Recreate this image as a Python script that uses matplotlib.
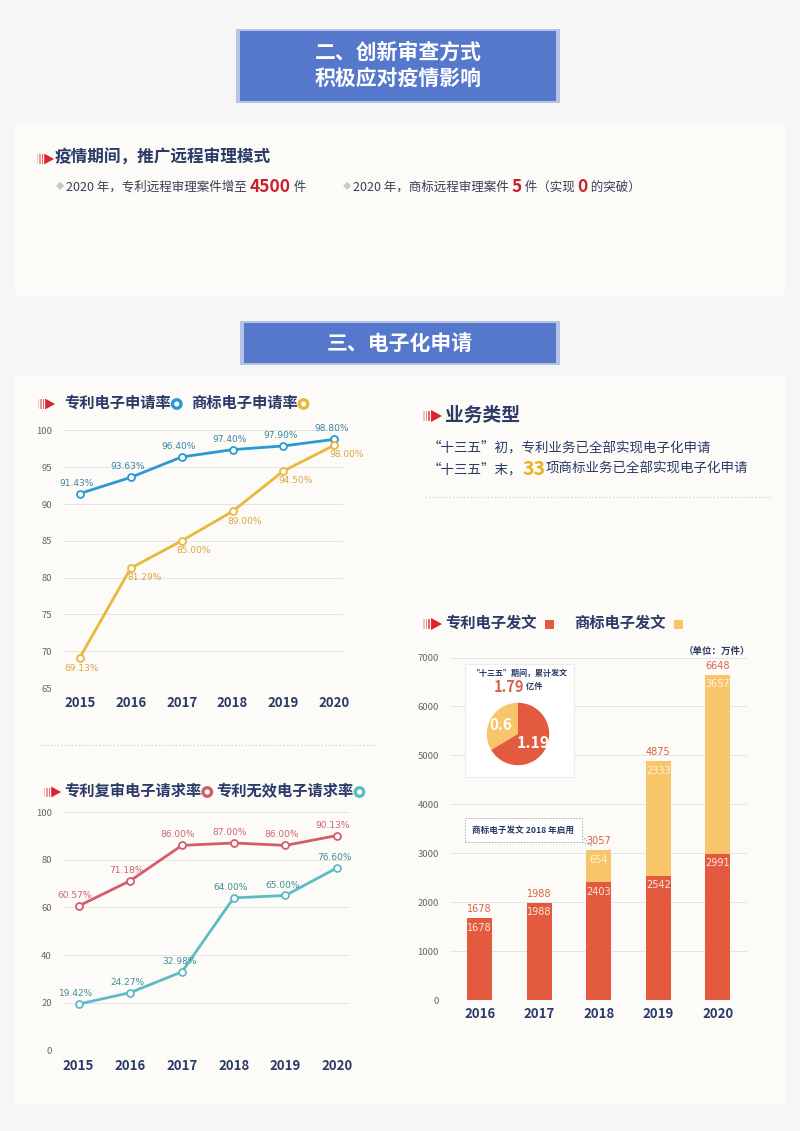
import matplotlib
matplotlib.use('Agg')
import matplotlib.pyplot as plt
from matplotlib.patches import FancyBboxPatch, Rectangle, Polygon, Ellipse

plt.rcParams['font.family'] = ['Noto Sans CJK SC', 'DejaVu Sans']

# data ---------------------------------------------------------------------
years_rate = ['2015', '2016', '2017', '2018', '2019', '2020']
patent_e_rate = [91.43, 93.63, 96.40, 97.40, 97.90, 98.80]
tm_e_rate = [69.13, 81.29, 85.00, 89.00, 94.50, 98.00]
reexam_rate = [60.57, 71.18, 86.00, 87.00, 86.00, 90.13]
invalid_rate = [19.42, 24.27, 32.98, 64.00, 65.00, 76.60]

years_doc = ['2016', '2017', '2018', '2019', '2020']
patent_doc = [1678, 1988, 2403, 2542, 2991]
tm_doc = [0, 0, 654, 2333, 3657]
pie_labels = ['0.6', '1.19']
pie_values = [0.6, 1.19]

NAVY = '#2b3a67'
W, H = 800, 1131

fig = plt.figure(figsize=(8, 11.31), dpi=100)
fig.patch.set_facecolor('#f6f6f6')
R = fig.canvas.get_renderer()


def fx(px):
    return px / W


def fy(py):
    return 1 - py / H


def ax_at(x0, y0, x1, y1):
    # axes from pixel box (top-left / bottom-right)
    return fig.add_axes([fx(x0), fy(y1), (x1 - x0) / W, (y1 - y0) / H])


def rich(x, y, parts, **kw):
    # draw text pieces one after another, x/y in pixels
    xx = fx(x)
    for s, props in parts:
        p = dict(kw)
        p.update(props)
        t = fig.text(xx, fy(y), s, va='center', **p)
        bb = t.get_window_extent(renderer=R)
        xx += bb.width / fig.bbox.width
    return xx * W


def arrow(x, y, s=1.0):
    for i, a in enumerate([0.25, 0.45, 0.7]):
        fig.patches.append(Rectangle((fx(x + i * 2.6 * s), fy(y + 5 * s)), 1.6 * s / W, 10 * s / H,
                                     transform=fig.transFigure, color='#d9262e', alpha=a, lw=0))
    tx = x + 8 * s
    fig.patches.append(Polygon([(fx(tx), fy(y - 6 * s)), (fx(tx + 11 * s), fy(y)), (fx(tx), fy(y + 6 * s))],
                               closed=True, transform=fig.transFigure, color='#d9262e', lw=0))


def ring(x, y, color):
    fig.patches.append(Ellipse((fx(x), fy(y)), 8.5 / W, 8.5 / H, transform=fig.transFigure,
                               facecolor='white', edgecolor=color, lw=2.4))


def title_box(x0, y0, x1, y1, text, size):
    fig.patches.append(FancyBboxPatch((fx(x0 - 4), fy(y1 + 2)), (x1 - x0 + 8) / W, (y1 - y0 + 4) / H,
                                      boxstyle='square,pad=0', transform=fig.transFigure,
                                      facecolor='#b4c3e6', edgecolor='none'))
    fig.patches.append(FancyBboxPatch((fx(x0), fy(y1)), (x1 - x0) / W, (y1 - y0) / H,
                                      boxstyle='square,pad=0', transform=fig.transFigure,
                                      facecolor='#5577cc', edgecolor='none'))
    fig.text(fx((x0 + x1) / 2), fy((y0 + y1) / 2), text, ha='center', va='center', color='white',
             fontsize=size, fontweight='bold', linespacing=1.35)


def panel(x0, y0, x1, y1):
    fig.patches.append(Rectangle((fx(x0), fy(y1)), (x1 - x0) / W, (y1 - y0) / H, zorder=-10,
                                 transform=fig.transFigure, facecolor='#fcfbf8', edgecolor='none'))


# background panels and headers ----------------------------------------------
panel(15, 125, 785, 295)
panel(15, 375, 785, 1105)
title_box(240, 31, 556, 101, '二、创新审查方式\n积极应对疫情影响', 15)
title_box(244, 323, 556, 363, '三、电子化申请', 15)

arrow(37, 159, 0.9)
fig.text(fx(55), fy(158), '疫情期间，推广远程审理模式', fontsize=12, fontweight='bold', color=NAVY, va='center')
rich(56, 187, [('◆ ', dict(color='#c8c8c8', fontsize=6)),
               ('2020 年，专利远程审理案件增至 ', {}),
               ('4500', dict(color='#c8202a', fontsize=12.5, fontweight='bold')),
               (' 件', {})], fontsize=9, color='#3a3f55')
rich(343, 187, [('◆ ', dict(color='#c8c8c8', fontsize=6)),
                ('2020 年，商标远程审理案件 ', {}),
                ('5', dict(color='#c8202a', fontsize=12.5, fontweight='bold')),
                (' 件（实现 ', {}),
                ('0', dict(color='#c8202a', fontsize=12.5, fontweight='bold')),
                (' 的突破）', {})], fontsize=9, color='#3a3f55')


def line_axes(ax, ylim, yticks):
    ax.set_facecolor('none')
    ax.set_xlim(-0.33, 5.17)
    ax.set_ylim(*ylim)
    ax.set_yticks(yticks)
    ax.set_xticks(range(6))
    ax.set_xticklabels(years_rate, fontsize=9.5, fontweight='bold', color=NAVY)
    ax.tick_params(axis='y', labelsize=6.8, labelcolor='#666666', length=0, pad=8)
    ax.tick_params(axis='x', length=0, pad=6)
    ax.grid(axis='y', color='#e4e4e4', lw=0.7)
    for s in ax.spines.values():
        s.set_visible(False)
    ax.set_axisbelow(True)


def draw_series(ax, vals, color, lab_color, off):
    ax.plot(range(6), vals, color=color, lw=2, marker='o', ms=5, mfc='white', mec=color, mew=1.3,
            zorder=3, clip_on=False)
    for i, v in enumerate(vals):
        dx, dy = off[i] if isinstance(off, list) else off
        ax.annotate('%.2f%%' % v, (i, v), xytext=(dx, dy), textcoords='offset points', ha='center',
                    va='center', fontsize=6.5, color=lab_color, family='DejaVu Sans')


# chart 1: electronic application rate ---------------------------------------
arrow(38, 404, 0.9)
x = rich(64, 403, [('专利电子申请率', {})], fontsize=11, fontweight='bold', color=NAVY)
ring(x + 6, 404, '#2b9ad3')
x = rich(x + 20, 403, [('商标电子申请率', {})], fontsize=11, fontweight='bold', color=NAVY)
ring(x + 6, 404, '#e8b83a')

ax1 = ax_at(63, 430.5, 343, 688)
line_axes(ax1, (65, 100), range(65, 101, 5))
draw_series(ax1, patent_e_rate, '#2b9ad3', '#3a84a6', (-2, 7.5))
draw_series(ax1, tm_e_rate, '#e8b83a', '#d9a640',
            [(1, -8), (10, -7), (9, -7), (9, -7), (9, -7), (9, -7)])

# dotted separators
fig.add_artist(plt.Line2D([fx(40), fx(375)], [fy(745), fy(745)], transform=fig.transFigure,
                          color='#d8d8d8', lw=1, ls=(0, (1, 1.5))))
fig.add_artist(plt.Line2D([fx(425), fx(770)], [fy(497), fy(497)], transform=fig.transFigure,
                          color='#d8d8d8', lw=1, ls=(0, (1, 1.5))))

# chart 2: review / invalidation request rate --------------------------------
arrow(44, 792, 0.9)
x = rich(64, 791, [('专利复审电子请求率', {})], fontsize=11, fontweight='bold', color=NAVY)
ring(x + 6, 792, '#d45d6b')
x = rich(x + 15, 791, [('专利无效电子请求率', {})], fontsize=11, fontweight='bold', color=NAVY)
ring(x + 6, 792, '#5bbcc4')

ax2 = ax_at(63, 812, 350, 1050.5)
line_axes(ax2, (0, 100), range(0, 101, 20))
ax2.set_xlim(-0.3, 5.25)
draw_series(ax2, reexam_rate, '#d45d6b', '#cf6474', (-3, 7.5))
draw_series(ax2, invalid_rate, '#5bbcc4', '#3f8f98', (-2, 7.5))

# business types --------------------------------------------------------------
arrow(423, 416, 1.0)
fig.text(fx(445), fy(415), '业务类型', fontsize=13.5, fontweight='bold', color=NAVY, va='center')
rich(428, 447, [('“十三五”初，专利业务已全部实现电子化申请', {})], fontsize=9.7, color=NAVY)
rich(428, 469, [('“十三五”末，', {}),
                ('33', dict(color='#e8b020', fontsize=14, fontweight='bold')),
                ('项商标业务已全部实现电子化申请', {})], fontsize=9.7, color=NAVY)

# chart 3: electronic dispatches ---------------------------------------------
arrow(423, 624, 1.0)
x = rich(445, 623, [('专利电子发文', {})], fontsize=11, fontweight='bold', color=NAVY)
fig.patches.append(Rectangle((fx(x + 8), fy(629)), 9 / W, 9 / H, transform=fig.transFigure,
                             color='#e35a3f', lw=0))
x = rich(x + 38, 623, [('商标电子发文', {})], fontsize=11, fontweight='bold', color=NAVY)
fig.patches.append(Rectangle((fx(x + 8), fy(629)), 9 / W, 9 / H, transform=fig.transFigure,
                             color='#f9c56a', lw=0))
fig.text(fx(750), fy(651), '（单位：万件）', fontsize=6.8, fontweight='bold', color=NAVY,
         ha='right', va='center')

ax3 = ax_at(450, 657.5, 747, 1000)
ax3.set_facecolor('none')
xs = list(range(len(years_doc)))
ax3.bar(xs, patent_doc, width=0.42, color='#e35a3f', zorder=2)
ax3.bar(xs, tm_doc, width=0.42, bottom=patent_doc, color='#f9c56a', zorder=2)
ax3.set_xlim(-0.5, 4.49)
ax3.set_ylim(0, 7000)
ax3.set_yticks(range(0, 7001, 1000))
ax3.set_xticks(xs)
ax3.set_xticklabels(years_doc, fontsize=9.5, fontweight='bold', color=NAVY)
ax3.tick_params(axis='y', labelsize=6.8, labelcolor='#666666', length=0, pad=8)
ax3.tick_params(axis='x', length=0, pad=5)
ax3.grid(axis='y', color='#e4e4e4', lw=0.7)
ax3.set_axisbelow(True)
for s in ax3.spines.values():
    s.set_visible(False)
for i in xs:
    total = patent_doc[i] + tm_doc[i]
    ax3.annotate(str(total), (i, total), xytext=(0, 6.5), textcoords='offset points', ha='center',
                 va='center', fontsize=7, color='#d9624a', family='DejaVu Sans')
    ax3.annotate(str(patent_doc[i]), (i, patent_doc[i]), xytext=(0, -7), textcoords='offset points',
                 ha='center', va='center', fontsize=7, color='#fde8e0', family='DejaVu Sans')
    if tm_doc[i] > 0:
        ax3.annotate(str(tm_doc[i]), (i, total), xytext=(0, -7), textcoords='offset points',
                     ha='center', va='center', fontsize=7, color='#fff4dc', family='DejaVu Sans')

# inset pie
fig.patches.append(Rectangle((fx(465), fy(777)), 109 / W, 113 / H, transform=fig.transFigure,
                             facecolor='white', edgecolor='#ececec', lw=0.8, zorder=5))
fig.text(fx(519), fy(673), '“十三五”期间，累计发文', fontsize=5.8, fontweight='bold', color=NAVY,
         ha='center', va='center', zorder=6)
rich(494, 687, [('1.79', dict(color='#d9624a', fontsize=10.5, fontweight='bold')),
                (' 亿件', dict(fontsize=6, color=NAVY, fontweight='bold'))], zorder=6)
axp = ax_at(479, 695, 557, 773)
axp.set_zorder(7)
axp.pie(pie_values, colors=['#f9c56a', '#e35a3f'], startangle=90, counterclock=True,
        wedgeprops=dict(lw=0))
axp.set_aspect('equal')
fig.text(fx(501), fy(725), pie_labels[0], fontsize=11, fontweight='bold', color='white',
         ha='center', va='center', zorder=8)
fig.text(fx(533), fy(743), pie_labels[1], fontsize=11.5, fontweight='bold', color='white',
         ha='center', va='center', zorder=8)

# note box
fig.patches.append(Rectangle((fx(465), fy(842)), 117 / W, 24 / H, transform=fig.transFigure,
                             facecolor='white', edgecolor='#aaaaaa', lw=0.7, ls=(0, (1.5, 1.5)), zorder=5))
fig.text(fx(523), fy(830), '商标电子发文 2018 年启用', fontsize=6.2, fontweight='bold', color=NAVY,
         ha='center', va='center', zorder=6)
fig.add_artist(plt.Line2D([fx(580), fx(592), fx(582)], [fy(834), fy(846), fy(842)],
                          transform=fig.transFigure, color='#aaaaaa', lw=0.7, ls=(0, (1.5, 1.5))))

fig.savefig('out.png', dpi=100, facecolor=fig.get_facecolor())
